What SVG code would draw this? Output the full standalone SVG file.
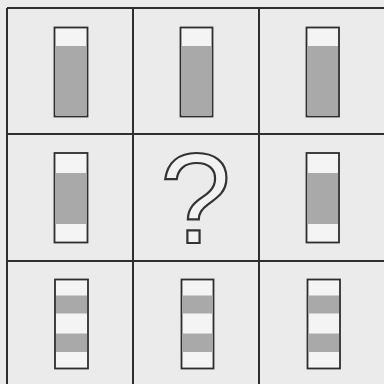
<svg xmlns="http://www.w3.org/2000/svg" width="384" height="384" viewBox="0 0 384 384">
<style>
.grid{stroke:#2e2e2e;stroke-width:2;fill:none}
.box{fill:#f4f4f4;stroke:#2e2e2e;stroke-width:1.8}
.fill{fill:#a9a9a9}
.q{font-family:"Liberation Sans",Arial,sans-serif;font-size:128px;fill:#f2f2f2;stroke:#333;stroke-width:2.2;text-anchor:middle}
</style>
<rect width="384" height="384" fill="#ebebeb"/>
<g id="grid" class="grid">
<line x1="7" y1="8" x2="384" y2="8"/>
<line x1="7" y1="134" x2="384" y2="134"/>
<line x1="7" y1="261" x2="384" y2="261"/>
<line x1="7" y1="8" x2="7" y2="384"/>
<line x1="133" y1="8" x2="133" y2="384"/>
<line x1="259" y1="8" x2="259" y2="384"/>
</g>
<g id="r1c1"><rect class="box" x="54.5" y="27.5" width="33" height="89"/><rect class="fill" x="55.5" y="46" width="31" height="69.5"/></g>
<g id="r1c2"><rect class="box" x="180.5" y="27.5" width="32" height="89"/><rect class="fill" x="181.5" y="46" width="30" height="69.5"/></g>
<g id="r1c3"><rect class="box" x="306.5" y="27.5" width="32.5" height="89"/><rect class="fill" x="307.5" y="46" width="30.5" height="69.5"/></g>
<g id="r2c1"><rect class="box" x="54.5" y="153" width="33" height="89.5"/><rect class="fill" x="55.5" y="173" width="31" height="51"/></g>
<g id="r2c2"><text class="q" x="195.5" y="243">?</text></g>
<g id="r2c3"><rect class="box" x="306.5" y="153" width="32.5" height="89.5"/><rect class="fill" x="307.5" y="173" width="30.5" height="51"/></g>
<g id="r3c1"><rect class="box" x="55" y="279.5" width="33" height="89"/><rect class="fill" x="56" y="295.5" width="31" height="18"/><rect class="fill" x="56" y="333.5" width="31" height="18.5"/></g>
<g id="r3c2"><rect class="box" x="181.5" y="279.5" width="32" height="89"/><rect class="fill" x="182.5" y="295.5" width="30" height="18"/><rect class="fill" x="182.5" y="333.5" width="30" height="18.5"/></g>
<g id="r3c3"><rect class="box" x="307.5" y="279.5" width="32.5" height="89"/><rect class="fill" x="308.5" y="295.5" width="30.5" height="18"/><rect class="fill" x="308.5" y="333.5" width="30.5" height="18.5"/></g>
</svg>
